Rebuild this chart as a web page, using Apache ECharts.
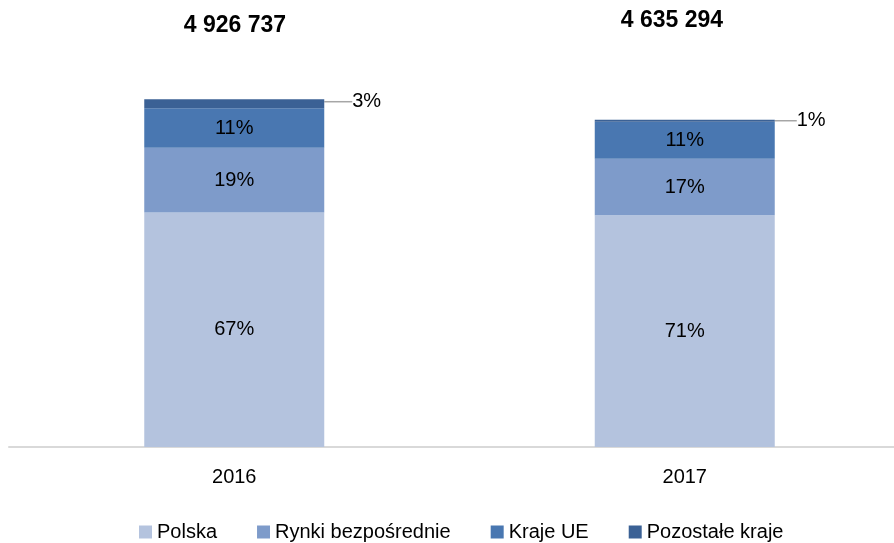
<!DOCTYPE html>
<html>
<head>
<meta charset="utf-8">
<script src="https://cdn.jsdelivr.net/npm/echarts@6/dist/echarts.min.js"></script>
<style>
html,body{margin:0;padding:0;background:#fff;overflow:hidden;}
#chart{width:910px;height:543px;}
</style>
</head>
<body>
<div id="chart"></div>
<script>
const years = ['2016', '2017'];
const totals = [4926737, 4635294];
const seriesNames = ['Polska', 'Rynki bezpośrednie', 'Kraje UE', 'Pozostałe kraje'];
const polska = [3323000, 3281294];
const rynki = [916000, 801300];
const krajeUE = [559000, 524700];
const pozostale = [128737, 28000];
const colors = ['#b4c3de', '#7e9bca', '#4977b1', '#3b6195'];

const FONT = '"Liberation Sans", Arial, sans-serif';
const seriesValues = [polska, rynki, krajeUE, pozostale];

function fmtTotal(v) {
  return String(v).replace(/\B(?=(\d{3})+(?!\d))/g, ' ');
}
function pct(v, i) {
  return Math.round(v / totals[i] * 100) + '%';
}

const chart = echarts.init(document.getElementById('chart'), null, {renderer: 'canvas'});

const series = seriesValues.map((vals, si) => {
  const isSmall = si === 3;
  const s = {
    name: seriesNames[si],
    type: 'bar',
    stack: 'total',
    barWidth: 180,
    data: vals,
    itemStyle: {color: colors[si]},
    emphasis: {disabled: true},
    label: {
      show: true,
      position: isSmall ? 'right' : 'inside',
      distance: 22,
      fontFamily: FONT,
      fontSize: 20,
      color: '#000',
      formatter: p => pct(p.value, p.dataIndex)
    }
  };
  if (isSmall) {
    s.labelLayout = function (params) {
      if (params.dataIndex === 0) return {dx: 6, dy: -2};
      return {dx: 0, dy: 0};
    };
    s.labelLine = {show: true, lineStyle: {color: '#a6a6a6', width: 1.5}};
  }
  return s;
});

chart.setOption({
  animation: false,
  backgroundColor: '#fff',
  color: colors,
  grid: {left: 9, right: 0, top: 94, bottom: 96, containLabel: false},
  xAxis: {
    type: 'category',
    data: years,
    axisLine: {show: true, lineStyle: {color: '#d9d9d9', width: 2}},
    axisTick: {show: false},
    axisLabel: {fontFamily: FONT, fontSize: 20, color: '#000', margin: 20}
  },
  yAxis: {
    type: 'value',
    min: 0,
    max: 5000000,
    show: false,
    splitLine: {show: false}
  },
  legend: {
    data: seriesNames,
    left: 134,
    top: 517,
    icon: 'rect',
    itemWidth: 13,
    itemHeight: 13,
    itemGap: 40,
    textStyle: {fontFamily: FONT, fontSize: 20, color: '#000'}
  },
  graphic: [
    {type: 'text', x: 235, y: 26, style: {text: fmtTotal(totals[0]), font: 'bold 23px ' + FONT, fill: '#000', textAlign: 'center', textVerticalAlign: 'middle'}},
    {type: 'text', x: 672, y: 21, style: {text: fmtTotal(totals[1]), font: 'bold 23px ' + FONT, fill: '#000', textAlign: 'center', textVerticalAlign: 'middle'}}
  ],
  series: series
});
</script>
</body>
</html>
